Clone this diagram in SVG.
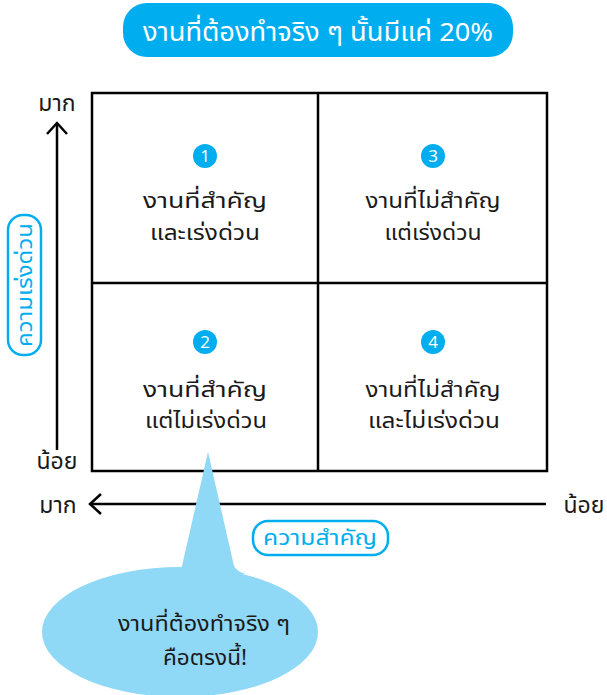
<svg xmlns="http://www.w3.org/2000/svg" width="607" height="695" viewBox="0 0 607 695">
<defs>
<style>
text{font-family:"Noto Sans Thai","Noto Sans","DejaVu Sans",sans-serif;}
.lbl{font-size:22px;fill:#1a1a1a;text-anchor:middle;}
.ax{font-size:23px;fill:#1a1a1a;text-anchor:middle;}
.num{font-size:17px;fill:#fff;text-anchor:middle;}
.badge{fill:#00aeef;}
.pill{fill:#fff;stroke:#00aeef;stroke-width:2.5;}
.ptxt{font-size:22px;fill:#00aeef;text-anchor:middle;}
.axis{stroke:#000;stroke-width:2.5;fill:none;}
.grid{stroke:#000;stroke-width:2.5;fill:none;}
</style>
</defs>
<rect width="607" height="695" fill="#fff"/>
<g id="title">
<rect x="123" y="3" width="390" height="54" rx="24" fill="#00aeef"/>
<text x="318" y="41" textLength="350" lengthAdjust="spacingAndGlyphs" style="font-size:26px;fill:#fff;text-anchor:middle">งานที่ต้องทำจริง ๆ นั้นมีแค่ 20%</text>
</g>
<g id="grid">
<rect class="grid" x="92" y="93" width="455" height="378"/>
<line class="grid" x1="318" y1="93" x2="318" y2="471"/>
<line class="grid" x1="92" y1="283" x2="547" y2="283"/>
</g>
<g id="q1">
<circle class="badge" cx="205" cy="156" r="12"/>
<text class="num" x="205" y="162">1</text>
<text class="lbl" x="205" y="208" textLength="124" lengthAdjust="spacingAndGlyphs">งานที่สำคัญ</text>
<text class="lbl" x="205" y="240" textLength="110" lengthAdjust="spacingAndGlyphs">และเร่งด่วน</text>
</g>
<g id="q3">
<circle class="badge" cx="433" cy="156" r="12"/>
<text class="num" x="433" y="162">3</text>
<text class="lbl" x="433" y="208" textLength="135" lengthAdjust="spacingAndGlyphs">งานที่ไม่สำคัญ</text>
<text class="lbl" x="433" y="240" textLength="97" lengthAdjust="spacingAndGlyphs">แต่เร่งด่วน</text>
</g>
<g id="q2">
<circle class="badge" cx="205" cy="342" r="12"/>
<text class="num" x="205" y="348">2</text>
<text class="lbl" x="205" y="397" textLength="124" lengthAdjust="spacingAndGlyphs">งานที่สำคัญ</text>
<text class="lbl" x="206" y="428" textLength="122" lengthAdjust="spacingAndGlyphs">แต่ไม่เร่งด่วน</text>
</g>
<g id="q4">
<circle class="badge" cx="433" cy="342" r="12"/>
<text class="num" x="433" y="348">4</text>
<text class="lbl" x="433" y="397" textLength="135" lengthAdjust="spacingAndGlyphs">งานที่ไม่สำคัญ</text>
<text class="lbl" x="434" y="428" textLength="132" lengthAdjust="spacingAndGlyphs">และไม่เร่งด่วน</text>
</g>
<g id="connectors">
<line class="axis" x1="57" y1="450" x2="57" y2="123"/>
<polyline class="axis" points="47,134 57,123 67,134"/>
<line class="axis" x1="546" y1="504" x2="90" y2="504"/>
<polyline class="axis" points="101,494 90,504 101,514"/>
</g>
<g id="axis-labels">
<text class="ax" x="57" y="111">มาก</text>
<text class="ax" x="57" y="469">น้อย</text>
<text class="ax" x="58" y="513">มาก</text>
<text class="ax" x="584" y="513">น้อย</text>
</g>
<g id="urgency">
<rect class="pill" x="8" y="215" width="33" height="140" rx="15"/>
<text class="ptxt" transform="translate(24.5 285) rotate(-90)" y="7" textLength="124" lengthAdjust="spacingAndGlyphs">ความเร่งด่วน</text>
</g>
<g id="importance">
<rect class="pill" x="253" y="521" width="135" height="34" rx="15"/>
<text class="ptxt" x="320" y="545" textLength="114" lengthAdjust="spacingAndGlyphs">ความสำคัญ</text>
</g>
<g id="callout">
<ellipse cx="180" cy="632" rx="138" ry="65" fill="#8fd8f6"/>
<path d="M170,574 Q180,571 182,566 L208,452 L234,566 Q236,571 246,574 Z" fill="#8fd8f6"/>
<text class="lbl" x="204" y="631" textLength="172" lengthAdjust="spacingAndGlyphs">งานที่ต้องทำจริง ๆ</text>
<text class="lbl" x="205" y="665" textLength="84" lengthAdjust="spacingAndGlyphs">คือตรงนี้!</text>
</g>
</svg>
